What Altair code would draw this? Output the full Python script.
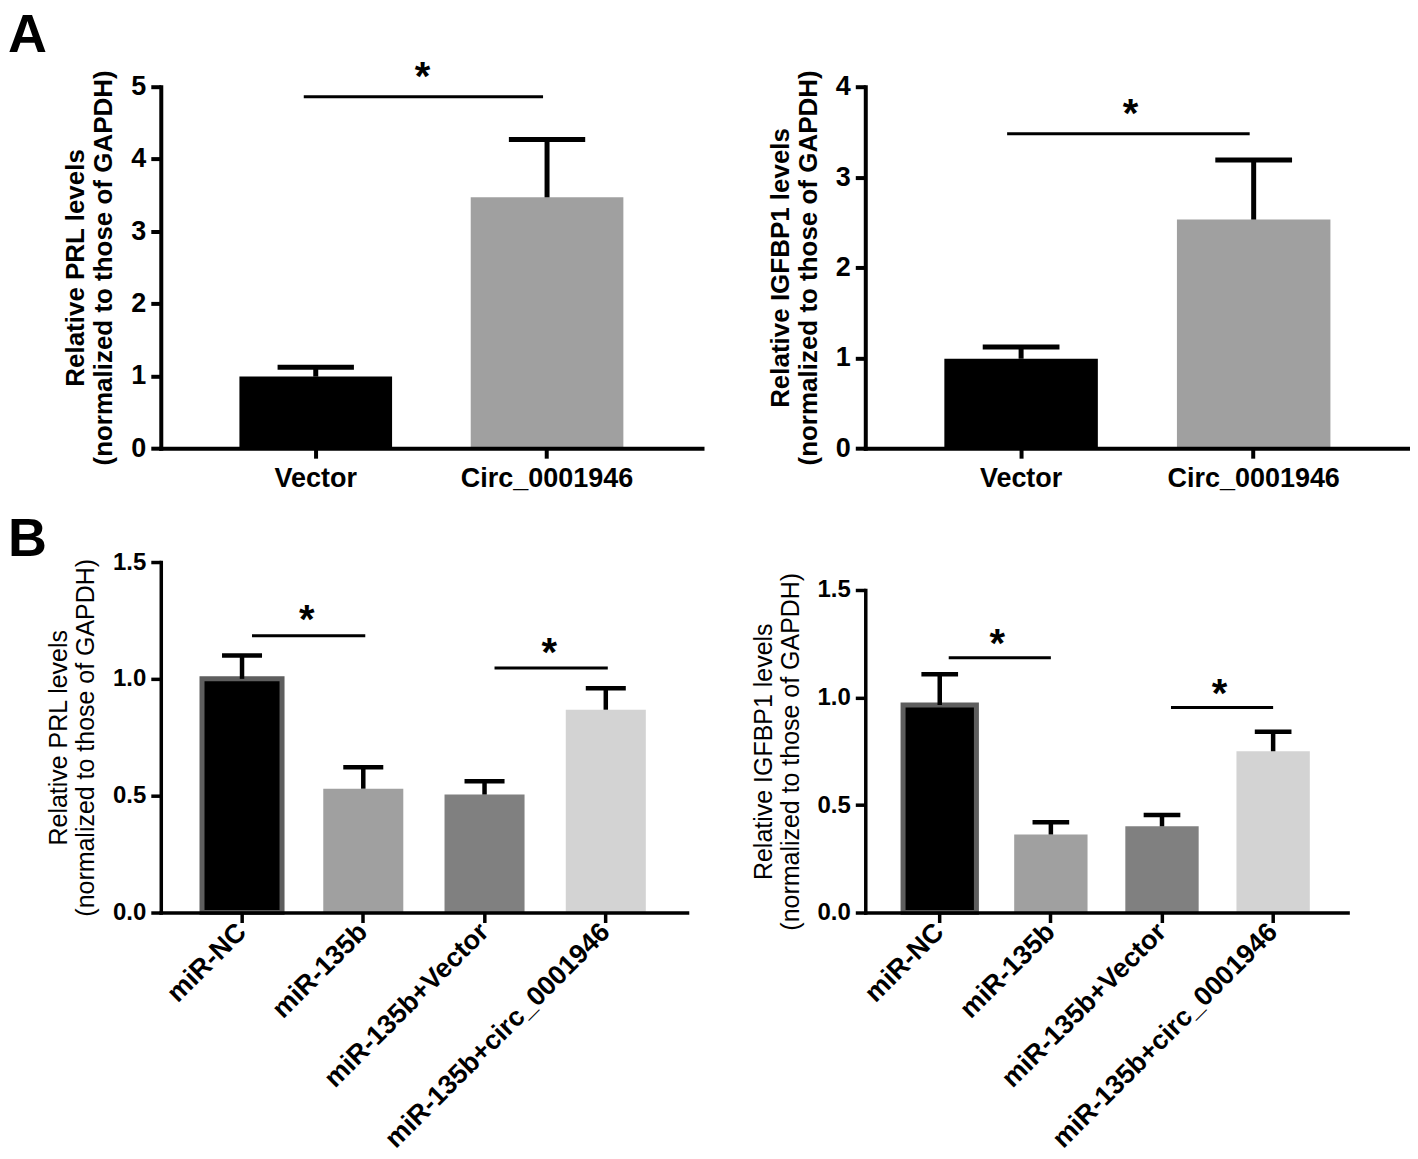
import altair as alt
import pandas as pd

# ---------------- data ----------------
a_groups = ["Vector", "Circ_0001946"]
a_prl_mean = [0.99, 3.47]
a_prl_upper = [1.12, 4.27]
a_igf_mean = [0.99, 2.53]
a_igf_upper = [1.12, 3.19]

b_groups = ["miR-NC", "miR-135b", "miR-135b+Vector", "miR-135b+circ_0001946"]
b_prl_mean = [1.0, 0.53, 0.505, 0.868]
b_prl_upper = [1.10, 0.622, 0.562, 0.96]
b_igf_mean = [0.965, 0.363, 0.401, 0.75]
b_igf_upper = [1.108, 0.42, 0.453, 0.841]

# significance brackets: start group, end group, line level, star level
a_prl_sig_start = ["Vector"]
a_prl_sig_end = ["Circ_0001946"]
a_prl_sig_y = [4.86]
a_prl_star_y = [5.15]

a_igf_sig_start = ["Vector"]
a_igf_sig_end = ["Circ_0001946"]
a_igf_sig_y = [3.48]
a_igf_star_y = [3.71]

b_prl_sig_start = ["miR-NC", "miR-135b+Vector"]
b_prl_sig_end = ["miR-135b", "miR-135b+circ_0001946"]
b_prl_sig_y = [1.185, 1.047]
b_prl_star_y = [1.255, 1.115]

b_igf_sig_start = ["miR-NC", "miR-135b+Vector"]
b_igf_sig_end = ["miR-135b", "miR-135b+circ_0001946"]
b_igf_sig_y = [1.185, 0.953]
b_igf_star_y = [1.255, 1.022]

a_colors = ["#000000", "#a0a0a0"]
b_colors = ["#000000", "#a0a0a0", "#808080", "#d3d3d3"]

FONT = "Liberation Sans"


def panel(groups, means, uppers, colors, sig_start, sig_end, sig_y, star_y,
          width, height, ydomain, yvalues, yformat, ytitle, bold_title,
          tick_font, xlabel_font, title_font, label_angle, line_w, err_w, sig_w,
          sig_off, sig_off2, star_dx, yrange=None, letter=None,
          letter_xy=(0, 0), first_outline=False):
    df = pd.DataFrame({"group": groups, "mean": means, "upper": uppers})
    sig = pd.DataFrame({"start": sig_start, "end": sig_end,
                        "sy": sig_y, "stary": star_y, "mark": ["*"] * len(sig_y)})

    n = len(groups)
    step = width / (n + 0.34)
    bw = step * 0.66

    xscale = alt.Scale(domain=groups, paddingInner=0.34, paddingOuter=0.34)
    yscale_kw = dict(domain=ydomain, nice=False, zero=True)
    if yrange is not None:
        yscale_kw["range"] = yrange
    yscale = alt.Scale(**yscale_kw)

    xaxis_kw = dict(
        title=None, labelAngle=label_angle, labelFontSize=xlabel_font,
        labelFontWeight="bold", labelColor="black", labelFont=FONT,
        tickSize=10, tickWidth=line_w, tickColor="black",
        domainWidth=line_w, domainColor="black", domainCap="square",
        grid=False, labelPadding=7 if label_angle == 0 else 5, zindex=1,
        labelLimit=600,
    )
    if label_angle != 0:
        xaxis_kw["labelAlign"] = "right"
        xaxis_kw["labelBaseline"] = "middle"
    xaxis = alt.Axis(**xaxis_kw)

    yaxis = alt.Axis(
        values=yvalues, format=yformat, title=ytitle,
        titleFontSize=title_font, titleFontWeight="bold" if bold_title else "normal",
        titleFont=FONT, titleColor="black", titleLineHeight=title_font + 2,
        titlePadding=14, labelFontSize=tick_font, labelFontWeight="bold",
        labelFont=FONT, labelColor="black", labelPadding=5,
        tickSize=10, tickWidth=line_w, tickColor="black",
        domainWidth=line_w, domainColor="black", domainCap="square", grid=False,
        zindex=1, titleLimit=800,
    )

    def X(field):
        return alt.X(field, scale=xscale, axis=xaxis, sort=groups, title=None)

    def Y(field):
        return alt.Y(field, scale=yscale, axis=yaxis)

    base = alt.Chart(df)
    if first_outline:
        sw = alt.condition(alt.datum.group == groups[0], alt.value(5), alt.value(0))
    else:
        sw = alt.value(0)
    bars = base.mark_bar(stroke="#5e5e5e").encode(
        x=X("group:N"),
        y=Y("mean:Q"),
        color=alt.Color("group:N", scale=alt.Scale(domain=groups, range=colors), legend=None),
        strokeWidth=sw,
    )
    err = base.mark_rule(color="black", strokeWidth=err_w).encode(
        x=X("group:N"),
        y=Y("mean:Q"),
        y2="upper:Q",
    )
    cap = base.mark_tick(color="black", size=bw / 2, thickness=err_w, opacity=1).encode(
        x=X("group:N"),
        y=Y("upper:Q"),
    )
    sbase = alt.Chart(sig)
    sline = sbase.mark_rule(color="black", strokeWidth=sig_w,
                            xOffset=sig_off, x2Offset=sig_off2).encode(
        x=X("start:N"),
        x2="end:N",
        y=Y("sy:Q"),
    )
    star = sbase.mark_text(font=FONT, fontSize=40, fontWeight="bold", color="black",
                           baseline="alphabetic", align="center",
                           dx=step / 2 + star_dx, dy=14).encode(
        x=X("start:N"),
        y=Y("stary:Q"),
        text="mark:N",
    )
    layers = [bars, err, cap, sline, star]
    if letter is not None:
        lt = alt.Chart(pd.DataFrame({"label": [letter]})).mark_text(
            font=FONT, fontSize=54, fontWeight="bold", color="black",
            align="left", baseline="top").encode(
            text="label:N", x=alt.value(letter_xy[0]), y=alt.value(letter_xy[1]))
        layers.append(lt)
    return alt.layer(*layers).properties(width=width, height=height)


a_left = panel(a_groups, a_prl_mean, a_prl_upper, a_colors,
               a_prl_sig_start, a_prl_sig_end, a_prl_sig_y, a_prl_star_y,
               width=542, height=362, ydomain=[0, 5], yvalues=[0, 1, 2, 3, 4, 5], yformat="d",
               ytitle=["Relative PRL levels", "(normalized to those of GAPDH)"], bold_title=True,
               tick_font=27, xlabel_font=27, title_font=26, label_angle=0, line_w=4, err_w=5, sig_w=3,
               sig_off=-12, sig_off2=-4, star_dx=-9,
               letter="A", letter_xy=(-153, -78))

a_right = panel(a_groups, a_igf_mean, a_igf_upper, a_colors,
                a_igf_sig_start, a_igf_sig_end, a_igf_sig_y, a_igf_star_y,
                width=545, height=362, ydomain=[0, 4], yvalues=[0, 1, 2, 3, 4], yformat="d",
                ytitle=["Relative IGFBP1 levels", "(normalized to those of GAPDH)"], bold_title=True,
                tick_font=27, xlabel_font=27, title_font=26, label_angle=0, line_w=4, err_w=5, sig_w=3,
                sig_off=-14, sig_off2=-4, star_dx=-7)

b_left = panel(b_groups, b_prl_mean, b_prl_upper, b_colors,
               b_prl_sig_start, b_prl_sig_end, b_prl_sig_y, b_prl_star_y,
               width=527, height=351, ydomain=[0, 1.5], yvalues=[0, 0.5, 1.0, 1.5], yformat=".1f",
               ytitle=["Relative PRL levels", "(normalized to those of GAPDH)"], bold_title=False,
               tick_font=24, xlabel_font=27, title_font=25, label_angle=-45, line_w=3.5, err_w=4.5, sig_w=3,
               sig_off=10, sig_off2=2, star_dx=4,
               letter="B", letter_xy=(-153, -49), first_outline=True)

b_right = panel(b_groups, b_igf_mean, b_igf_upper, b_colors,
                b_igf_sig_start, b_igf_sig_end, b_igf_sig_y, b_igf_star_y,
                width=483, height=351, ydomain=[0, 1.5], yvalues=[0, 0.5, 1.0, 1.5], yformat=".1f",
                ytitle=["Relative IGFBP1 levels", "(normalized to those of GAPDH)"], bold_title=False,
                tick_font=24, xlabel_font=27, title_font=25, label_angle=-45, line_w=3.5, err_w=4.5, sig_w=3,
                sig_off=9, sig_off2=0, star_dx=2, yrange=[351, 28], first_outline=True)

chart = alt.concat(
    a_left, a_right, b_left, b_right,
    columns=2, spacing={"row": 114, "column": 163.5}, bounds="flush", align="each",
).resolve_scale(color="independent").properties(padding=0).configure(
    font=FONT, view=alt.ViewConfig(strokeWidth=0)
)

chart.save("out.html", embed_options={"renderer": "svg", "actions": False})
